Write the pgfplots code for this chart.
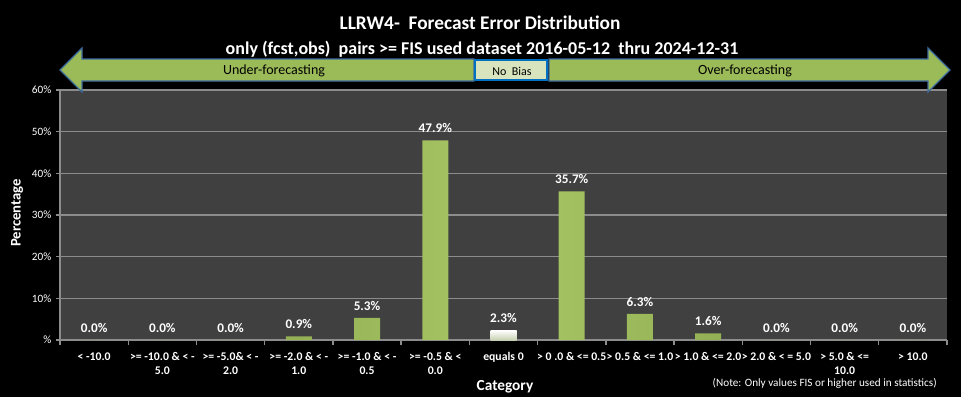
\documentclass[border=0pt]{standalone}
\usepackage{fontspec}
\setmainfont{Carlito}
\usepackage{pgfplots}
\pgfplotsset{compat=1.18}
\definecolor{plotbg}{HTML}{404040}
\definecolor{gridc}{HTML}{8C8C8C}
\definecolor{grn}{HTML}{9BBB59}
\definecolor{grnl}{HTML}{A9C765}
\definecolor{grnd}{HTML}{7E9A45}
\definecolor{arrowb}{HTML}{3D6B9E}
\definecolor{nobias}{HTML}{D7E4BD}
\definecolor{nobiasb}{HTML}{0070C0}
\begin{document}
\begin{tikzpicture}
\begin{scope}[x=0.75pt,y=-0.75pt]
\fill[black] (0,0) rectangle (961,397);
\end{scope}
\begin{axis}[
  at={(45pt,-255pt)}, anchor=south west,
  scale only axis, width=665.25pt, height=187.5pt,
  xmin=-0.5, xmax=12.5, ymin=0, ymax=60,
  axis background/.style={fill=plotbg},
  axis lines*=left, axis line style={gridc, line width=1pt, -},
  ytick={0,10,...,60}, yticklabels={\%,10\%,20\%,30\%,40\%,50\%,60\%},
  ymajorgrids, grid style={gridc, line width=1pt},
  xtick={0,...,12},
  xticklabels={
    {< -10.0},
    {>= -10.0 \& < -\\5.0},
    {>= -5.0\& < -\\2.0},
    {>= -2.0 \& < -\\1.0},
    {>= -1.0 \& < -\\0.5},
    {>= -0.5 \& <\\0.0},
    {equals 0},
    {> 0 .0 \& <= 0.5},
    {> 0.5 \& <= 1.0},
    {> 1.0 \& <= 2.0},
    {> 2.0 \& < = 5.0},
    {> 5.0 \& <=\\10.0},
    {> 10.0}},
  major x tick style={draw=none},
  minor xtick={-0.5,0.5,...,12.5},
  minor x tick style={gridc, line width=1pt},
  major y tick style={gridc, line width=1pt},
  tick align=outside, major tick length=3pt, minor tick length=4pt,
  x tick label style={font=\bfseries\fontsize{8.8pt}{10.2pt}\selectfont, text=white, align=center, yshift=-3pt},
  y tick label style={font=\fontsize{8.4pt}{9pt}\selectfont, text=white},
  /pgf/number format/assume math mode=true,
  clip=false,
]
\addplot[ybar, bar width=19.5pt, bar shift=0pt, left color=grnd, right color=grnd, middle color=grnl, draw=none,
  nodes near coords={\pgfmathprintnumber[fixed,fixed zerofill,precision=1]{\pgfplotspointmeta}\%},
  every node near coord/.append style={font=\bfseries\fontsize{9.9pt}{11pt}\selectfont, text=white, anchor=south, yshift=2pt}]
  coordinates {(0,0) (1,0) (2,0) (3,0.9) (4,5.3) (5,47.9) (6,2.3) (7,35.7) (8,6.3) (9,1.6) (10,0) (11,0) (12,0)};
\addplot[ybar, bar width=19.5pt, bar shift=0pt, top color=white, bottom color=nobias!80!gray, draw=none]
  coordinates {(6,2.3)};
\end{axis}
\begin{scope}[x=0.75pt,y=-0.75pt]
\draw[fill=grn, draw=arrowb, line width=1pt, line join=miter]
  (60,70) -- (82,48) -- (82,59) -- (474,59) -- (474,81) -- (82,81) -- (82,92) -- cycle;
\draw[fill=grn, draw=arrowb, line width=1pt, line join=miter]
  (549,59) -- (928,59) -- (928,48) -- (950,70) -- (928,92) -- (928,81) -- (549,81) -- cycle;
\draw[fill=nobias, draw=nobiasb, line width=1.5pt] (475,60) rectangle (547,80);
\node[font=\fontsize{10.5pt}{12pt}\selectfont, text=black] at (274,71) {Under-forecasting};
\node[font=\fontsize{10.5pt}{12pt}\selectfont, text=black] at (745,71) {Over-forecasting};
\node[font=\fontsize{9pt}{11pt}\selectfont, text=black] at (512,71) {No\ \ Bias};
\node[font=\bfseries\fontsize{14.5pt}{15pt}\selectfont, text=white, anchor=base] at (480,29) {LLRW4-\ \ Forecast Error Distribution};
\node[font=\bfseries\fontsize{13.5pt}{15pt}\selectfont, text=white, anchor=base] at (482,54) {only (fcst,obs)\ \ pairs >= FIS used dataset 2016-05-12\ \ thru 2024-12-31};
\node[font=\bfseries\fontsize{11pt}{12pt}\selectfont, text=white, rotate=90] at (17,213) {Percentage};
\node[font=\bfseries\fontsize{11.5pt}{12pt}\selectfont, text=white, anchor=base] at (505,390) {Category};
\node[font=\fontsize{8.4pt}{9pt}\selectfont, text=white, anchor=base east, inner sep=0pt] at (937,386) {(Note: Only values FIS or higher used in statistics)};
\end{scope}
\end{tikzpicture}
\end{document}
